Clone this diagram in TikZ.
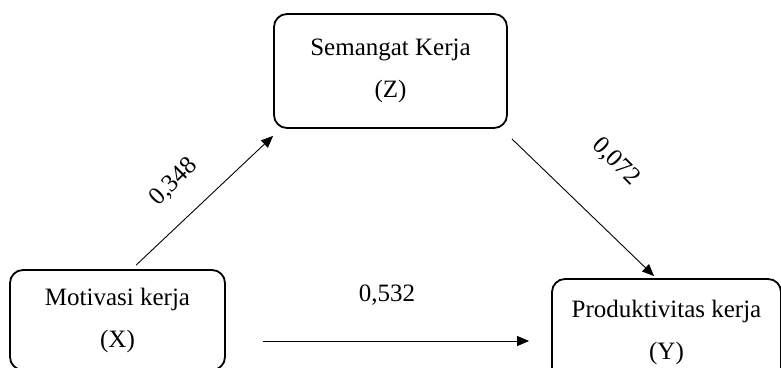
\documentclass[tikz,border=0pt]{standalone}
\usepackage{fontspec}
\setmainfont{Liberation Serif}
\usetikzlibrary{arrows.meta,positioning,calc}
\tikzset{
  varbox/.style={draw=black,line width=1.8pt,rounded corners=13pt,
                 align=center,inner sep=0pt,font=\fontsize{25}{42}\selectfont},
  patharr/.style={-{Triangle[length=12pt,width=10pt]},line width=0.9pt},
  coef/.style={font=\fontsize{25}{30}\selectfont,inner sep=0pt}
}

\begin{document}
\begin{tikzpicture}[x=1pt,y=1pt]
    \path[use as bounding box] (0,0) rectangle (781,367);
    \node[varbox,minimum width=215pt,minimum height=100pt] (mx) at (117.5,47)
      {Motivasi kerja\\(X)};
    \node[varbox,minimum width=233pt,minimum height=114pt] (sk) at (390.5,296)
      {Semangat Kerja\\(Z)};
    \node[varbox,minimum width=229pt,minimum height=106pt] (pk) at (666.5,35)
      {Produktivitas kerja\\(Y)};

    \draw[patharr] ([shift={(127,4)}]mx.north west) -- ([shift={(0,-7)}]sk.south west);
    \draw[patharr] ([shift={(4,-10)}]sk.south east) -- ([shift={(103,2)}]pk.north west);
    \draw[patharr] ([shift={(37,-21)}]mx.east) -- ([shift={(-22,-9)}]pk.west);

    \node[coef,rotate=45] (c1) at (174,185) {0,348};
    \node[coef,rotate=-45] (c2) at (616,205) {0,072};
    \node[coef] (c3) at (387,72) {0,532};
  \end{tikzpicture}
\end{document}
